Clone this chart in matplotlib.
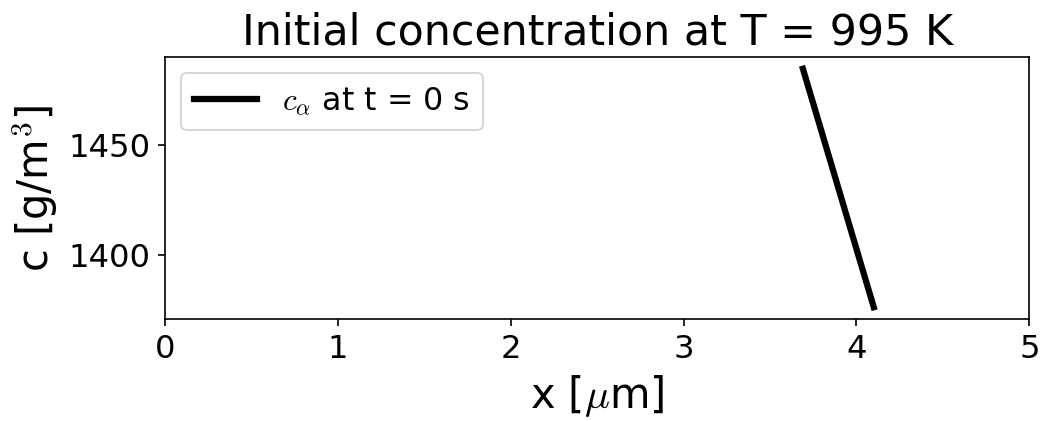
import numpy as np
import matplotlib
matplotlib.use('Agg')
import matplotlib.pyplot as plt

plt.rcParams['mathtext.fontset'] = 'cm'

T = 995  # K

# initial concentration profile of the alpha phase
x_alpha = [3.69, 4.10]      # um
c_alpha = [1484.8, 1376.3]  # g/m^3

fig = plt.figure(figsize=(1045/150, 421/150), dpi=150)
ax = fig.add_axes([0.158, 0.242, 0.827, 0.623])

ax.plot(x_alpha, c_alpha, color='k', lw=3, label=r'$c_\alpha$ at t = 0 s')
ax.set_xlim([0, 5])
ax.set_yticks([1400, 1450])
ax.tick_params(labelsize=15.5)
ax.set_xlabel(r'x [$\mu$m]', fontsize=20)
ax.set_ylabel(r'c [g/m$^3$]', fontsize=20)
ax.set_title('Initial concentration at T = %d K' % T, fontsize=20.5)
ax.legend(loc='upper left', fontsize=15.2)

fig.savefig('out.png', dpi=150)
